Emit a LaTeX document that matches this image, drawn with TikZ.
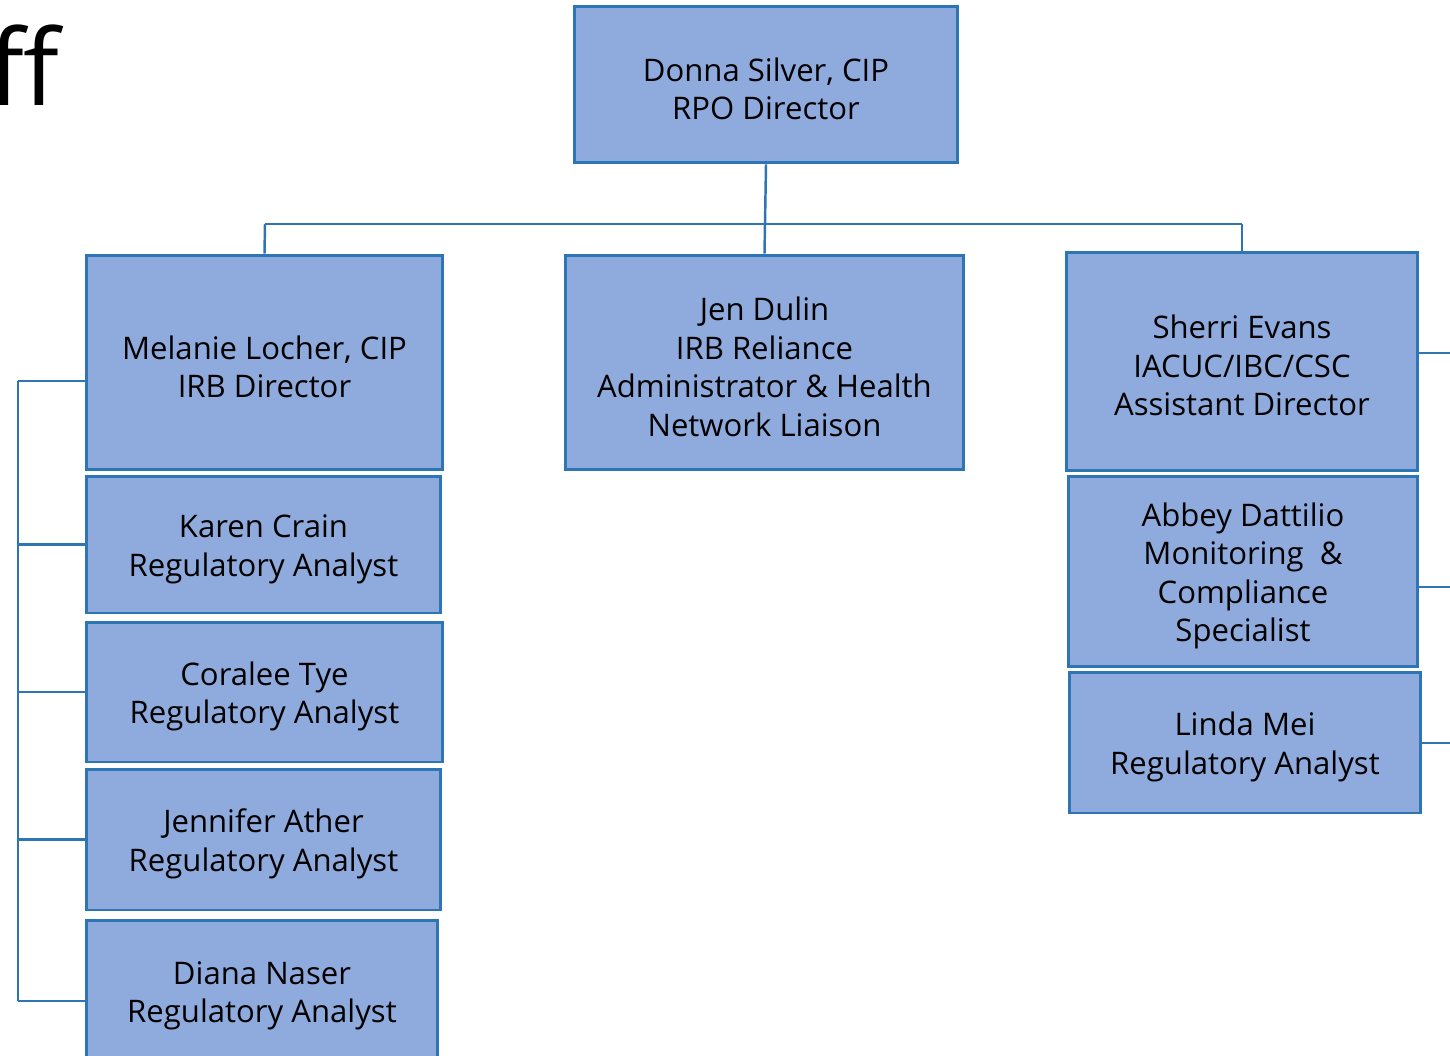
\documentclass[tikz,border=0pt]{standalone}
\usepackage{fontspec}
\setmainfont{Open Sans}
\definecolor{boxfill}{HTML}{8FAADC}
\definecolor{boxline}{HTML}{2E75B6}
\newcommand\boxstrut{\rule{0pt}{18.3pt}}
\tikzset{
  staffbox/.style={draw=boxline, fill=boxfill, line width=1.7pt, align=center,
    inner sep=0pt, font=\fontsize{17.7}{21.9}\selectfont},
  link/.style={draw=boxline, line width=1.4pt}
}
\begin{document}
\begin{tikzpicture}[x=0.02cm, y=-0.02cm]
\useasboundingbox (0,0) rectangle (1450,1055);
\clip (0,0) rectangle (1450,1055);
\node[anchor=base east, inner sep=0pt, font=\fontsize{60}{60}\selectfont\addfontfeatures{Ligatures=NoCommon}] (T_0) at (60,105) {ff};
\node[staffbox, minimum width=7.68cm, minimum height=3.14cm] (P_0_0) at (766,84.5) {\boxstrut Donna Silver, CIP\\RPO Director};
\node[staffbox, minimum width=7.14cm, minimum height=4.3cm] (P_1_0) at (264.5,362.5) {\boxstrut Melanie Locher, CIP\\IRB Director};
\node[staffbox, minimum width=7.98cm, minimum height=4.3cm] (P_1_1) at (764.5,362.5) {\boxstrut Jen Dulin\\IRB Reliance\\Administrator \& Health\\Network Liaison};
\node[staffbox, minimum width=7.04cm, minimum height=4.38cm] (P_1_2) at (1242,361.5) {\boxstrut Sherri Evans\\IACUC/IBC/CSC\\Assistant Director};
\coordinate (J_l) at (265,224);
\coordinate (J_r) at (1242,224);
\draw[link] (P_0_0.south) -- (P_1_1.north);
\draw[link] (J_l) -- (J_r);
\draw[link] (J_l) -- (P_1_0.north);
\draw[link] (J_r) -- (P_1_2.north);
% left column
\node[staffbox, minimum width=7.1cm, minimum height=2.74cm] (P_2_0) at (263.5,544.5) {\boxstrut Karen Crain\\Regulatory Analyst};
\node[staffbox, minimum width=7.14cm, minimum height=2.8cm] (P_3_0) at (264.5,692) {\boxstrut Coralee Tye\\Regulatory Analyst};
\node[staffbox, minimum width=7.1cm, minimum height=2.82cm] (P_4_0) at (263.5,839.5) {\boxstrut Jennifer Ather\\Regulatory Analyst};
\node[staffbox, minimum width=7.04cm, minimum height=2.84cm] (P_5_0) at (262,991) {\boxstrut Diana Naser\\Regulatory Analyst};
\coordinate (L_0) at (18,381);
\coordinate (L_4) at (18,1001);
\draw[link] (L_0) -- (L_4);
\draw[link] (L_0) -- (L_0 -| P_1_0.west);
\draw[link] (L_0 |- P_2_0.west) -- (P_2_0.west);
\draw[link] (L_0 |- P_3_0.west) -- (P_3_0.west);
\draw[link] (L_0 |- P_4_0.west) -- (P_4_0.west);
\draw[link] (L_4) -- (L_4 -| P_5_0.west);
% right column
\node[staffbox, minimum width=7.0cm, minimum height=3.82cm] (P_2_2) at (1243,571.5) {\boxstrut Abbey Dattilio\\Monitoring\ \ \&\\Compliance\\Specialist};
\node[staffbox, minimum width=7.04cm, minimum height=2.82cm] (P_3_2) at (1245,742.5) {\boxstrut Linda Mei\\Regulatory Analyst};
\coordinate (R_0) at (1450,353);
\coordinate (R_1) at (1450,587);
\coordinate (R_2) at (1450,743);
\draw[link] (R_0 -| P_1_2.east) -- (R_0);
\draw[link] (R_1 -| P_2_2.east) -- (R_1);
\draw[link] (R_2 -| P_3_2.east) -- (R_2);
\end{tikzpicture}
\end{document}
